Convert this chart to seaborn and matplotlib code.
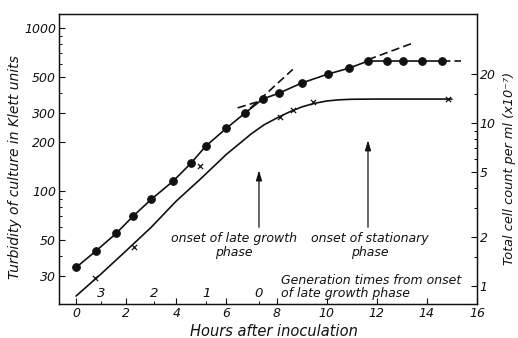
import matplotlib
matplotlib.use("Agg")
import matplotlib.pyplot as plt
import pandas as pd
import seaborn as sns
from matplotlib.ticker import FixedLocator, NullFormatter, FixedFormatter, LogLocator

# Turbidity of the culture (Klett units) against hours after inoculation
turb_hours = [0.0, 0.8, 1.6, 2.27, 3.0, 3.87, 4.58, 5.18, 6.0, 6.73,
              7.45, 8.1, 9.0, 10.05, 10.9, 11.65, 12.4, 13.05, 13.8, 14.6]
turb_klett = [34, 43, 55, 70, 89, 115, 148, 189, 243, 300,
              367, 399, 460, 522, 568, 628, 628, 628, 628, 628]

# Total cell counts (x10^7 per ml)
count_hours = [0.76, 2.3, 4.94, 8.13, 8.65, 9.44, 14.86]
count_vals = [1.12, 1.74, 5.44, 10.9, 12.1, 13.4, 14.1]

# Smooth growth curve drawn through the cell counts (x10^7 per ml)
curve_hours = [0, 1, 2, 3, 4, 5, 6, 7, 7.5, 8, 8.5, 9, 9.5, 10, 10.5,
               11, 12, 13, 14, 15]
curve_vals = [0.87, 1.19, 1.65, 2.30, 3.33, 4.60, 6.44, 8.62, 9.77, 10.73,
              11.69, 12.57, 13.22, 13.68, 13.91, 14.02, 14.06, 14.06,
              14.06, 14.06]

# Dashed extrapolations of the growth phases (Klett units)
exp_ext_hours = [6.95, 8.65]
exp_ext_klett = [322, 558]
late_back_hours = [6.45, 7.3]
late_back_klett = [324, 355]
late_fwd_hours = [11.65, 13.45]
late_fwd_klett = [640, 810]
plateau_ext_hours = [14.6, 15.35]
plateau_ext_klett = [628, 628]

# Generation times counted back from the onset of late growth
gen_hours = [1.0, 3.1, 5.2, 7.3]
gen_labels = ["3", "2", "1", "0"]

# Phase onsets
onset_hours = [7.3, 11.65]
onset_labels = ["onset of late growth\nphase", "onset of stationary\nphase"]

x_ticks = [0, 2, 4, 6, 8, 10, 12, 14, 16]
klett_ticks = [30, 50, 100, 200, 300, 500, 1000]
count_ticks = [1, 2, 5, 10, 20]
count_minor = [1.5, 3, 4, 6, 7, 8, 9, 15]

klett_per_count = 26.1
klett_lim = (20.3, 1220)

sns.set_style("ticks")
plt.rcParams["font.family"] = ["DejaVu Sans"]
plt.rcParams["font.style"] = "oblique"

W, H = 518, 338
fig = plt.figure(figsize=(W / 100, H / 100), dpi=100)
ax = fig.add_axes([59 / W, 1 - 304 / H, (477 - 59) / W, (304 - 14) / H])
ax2 = ax.twinx()

fs = 9
ink = "#111111"

turb = pd.DataFrame({"hours": turb_hours, "klett": turb_klett})
counts = pd.DataFrame({"hours": count_hours, "cells": count_vals})
curve = pd.DataFrame({"hours": curve_hours, "cells": curve_vals})

sns.lineplot(data=turb, x="hours", y="klett", ax=ax, color=ink, lw=1.2,
             marker="o", markersize=5.5, markeredgecolor=ink, zorder=3)

dash = (0, (5, 2.5))
for hx, ky in [(exp_ext_hours, exp_ext_klett), (late_back_hours, late_back_klett),
               (late_fwd_hours, late_fwd_klett), (plateau_ext_hours, plateau_ext_klett)]:
    sns.lineplot(x=hx, y=ky, ax=ax, color=ink, lw=1.2, linestyle=dash)

sns.lineplot(data=curve, x="hours", y="cells", ax=ax2, color=ink, lw=1.2)
sns.scatterplot(data=counts, x="hours", y="cells", ax=ax2, marker="x",
                s=14, linewidth=0.9, color=ink, zorder=4)

ax.set_yscale("log")
ax2.set_yscale("log")
ax.set_xlim(-0.68, 16.0)
ax.set_ylim(*klett_lim)
ax2.set_ylim(klett_lim[0] / klett_per_count, klett_lim[1] / klett_per_count)

ax.xaxis.set_major_locator(FixedLocator(x_ticks))
ax.xaxis.set_major_formatter(FixedFormatter([str(t) for t in x_ticks]))
ax.xaxis.set_minor_locator(FixedLocator(gen_hours))
ax.xaxis.set_minor_formatter(NullFormatter())

ax.yaxis.set_major_locator(FixedLocator(klett_ticks))
ax.yaxis.set_major_formatter(FixedFormatter([str(t) for t in klett_ticks]))
ax.yaxis.set_minor_locator(LogLocator(base=10, subs=(2, 3, 4, 5, 6, 7, 8, 9)))
ax.yaxis.set_minor_formatter(NullFormatter())

ax2.yaxis.set_major_locator(FixedLocator(count_ticks))
ax2.yaxis.set_major_formatter(FixedFormatter([str(t) for t in count_ticks]))
ax2.yaxis.set_minor_locator(FixedLocator(count_minor))
ax2.yaxis.set_minor_formatter(NullFormatter())

for a in (ax, ax2):
    a.tick_params(which="major", direction="in", length=4, width=0.8,
                  labelsize=fs, colors=ink, pad=2)
    a.tick_params(which="minor", direction="in", length=2.5, width=0.7,
                  colors=ink, left=True, right=True)
    for s in a.spines.values():
        s.set_linewidth(0.9)
        s.set_color(ink)
ax.tick_params(axis="y", which="both", right=False)
ax2.tick_params(axis="y", which="both", left=False)
ax.set_xlabel("")
ax.set_ylabel("")
ax2.set_ylabel("")

fig.text(274 / W, 1 - 332 / H, "Hours after inoculation", ha="center",
         va="center", fontsize=10.5, color=ink)
fig.text(15 / W, 1 - 167 / H, "Turbidity of culture in Klett units",
         ha="center", va="center", rotation=90, fontsize=10, color=ink)
fig.text(510 / W, 1 - 168 / H, "Total cell count per ml (x10⁻⁷)",
         ha="center", va="center", rotation=90, fontsize=9.3, color=ink)

# generation numbers along the bottom
for h, lab in zip(gen_hours, gen_labels):
    ax.text(h, 23.6, lab, ha="center", va="center", fontsize=fs + 0.5, color=ink)

ax.text(8.16, 25.9, "Generation times from onset\nof late growth phase",
        ha="left", va="center", fontsize=fs, color=ink, linespacing=1.05)

# onset arrows and labels
arrow_spans = [(60, 134), (60, 205)]
for h, (y0, y1) in zip(onset_hours, arrow_spans):
    ax.annotate("", xy=(h, y1), xytext=(h, y0),
                arrowprops=dict(arrowstyle="-|>,head_length=0.6,head_width=0.18",
                                color=ink, lw=0.9, shrinkA=0, shrinkB=0))
ax.text(6.29, 46.3, onset_labels[0], ha="center", va="center", fontsize=fs,
        color=ink, linespacing=1.05)
ax.text(11.74, 46.3, onset_labels[1], ha="center", va="center", fontsize=fs,
        color=ink, linespacing=1.05)

fig.savefig("out.png", dpi=100)
